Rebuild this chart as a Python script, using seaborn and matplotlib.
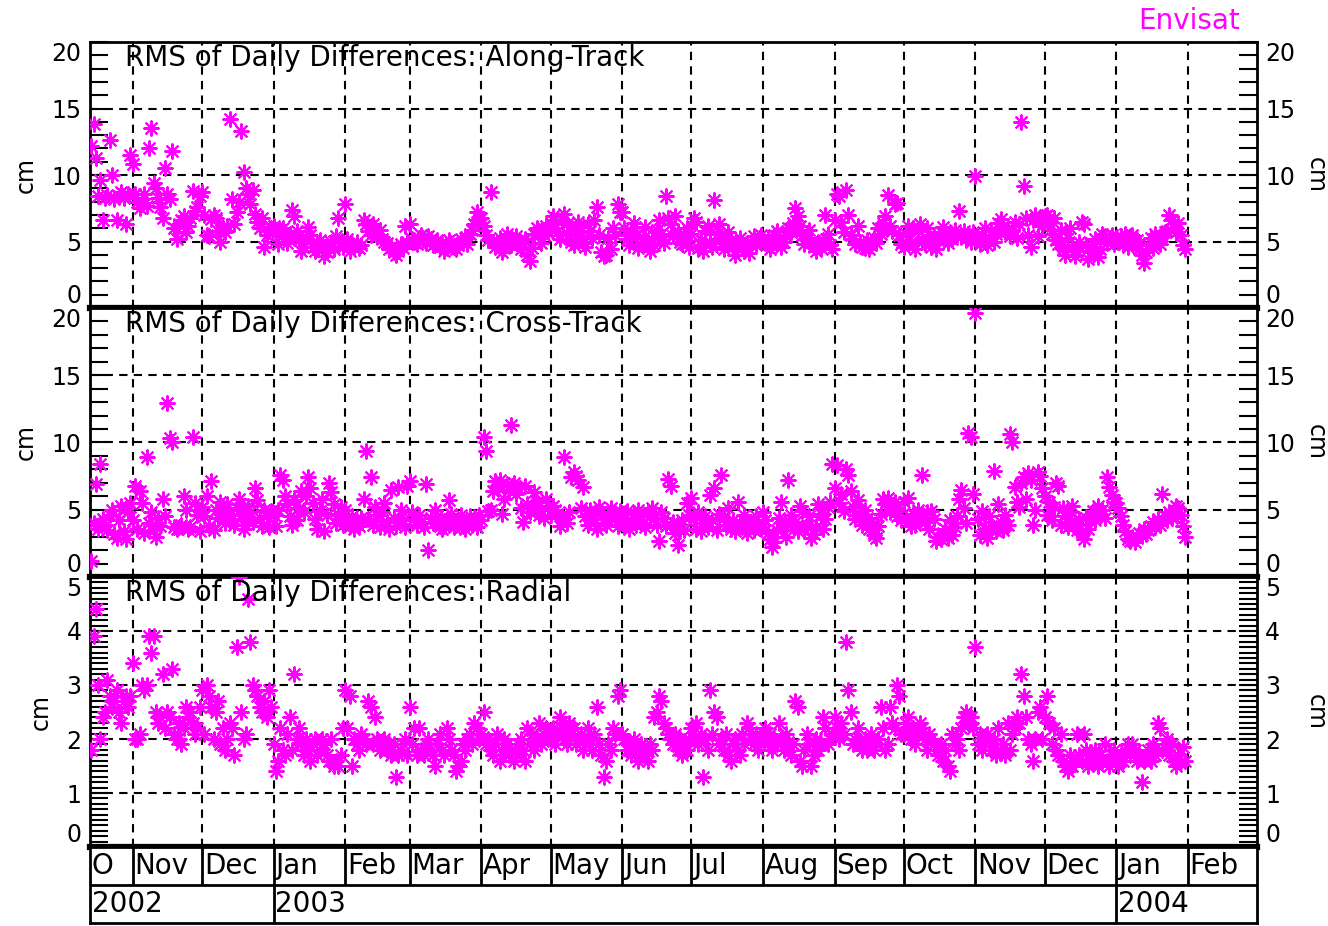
import matplotlib
matplotlib.use("Agg")
import matplotlib.pyplot as plt
import matplotlib.dates as mdates
from matplotlib.ticker import MultipleLocator, FixedLocator
import seaborn as sns
import pandas as pd

# daily RMS values (cm), one per day from 2002-10-14, one line per month
along_track = [
    12.2, 13.8, 11.3, 8.4, 9.6, 6.6, 8.3, 8.5, 12.6, 10.0, 8.2, 6.6, 8.4, 8.7, 8.3, 6.3, 8.6, 11.5,
    10.8, 8.6, 8.0, 7.5, 7.9, 8.6, 7.7, 12.0, 13.5, 9.4, 9.0, 8.3, 7.6, 6.8, 10.5, 8.6, 8.2, 11.8, 6.0, 5.2, 6.3, 6.6, 6.9, 5.7, 6.2, 6.8, 8.8, 7.3, 7.6, 8.4,
    8.7, 7.0, 5.5, 5.4, 6.7, 7.0, 6.8, 5.8, 5.0, 6.0, 5.7, 6.2, 14.2, 8.2, 6.3, 7.2, 8.0, 13.3, 10.2, 9.0, 8.6, 7.8, 8.9, 7.1, 6.5, 6.0, 6.8, 4.6, 5.5, 5.8, 6.0,
    6.2, 5.6, 4.8, 5.9, 6.0, 5.3, 4.9, 5.6, 7.4, 6.9, 5.8, 5.1, 4.3, 4.6, 5.2, 6.1, 5.5, 4.6, 4.3, 4.8, 5.1, 4.4, 3.9, 4.2, 4.5, 5.0, 4.4, 5.4, 6.8, 5.0, 4.6,
    7.8, 5.2, 4.3, 4.7, 4.6, 5.0, 4.5, 4.7, 6.6, 6.3, 5.8, 5.5, 6.3, 6.0, 5.4, 5.9, 5.2, 5.0, 4.9, 4.4, 4.6, 4.2, 4.0, 4.3, 4.8, 4.5, 6.2, 5.0,
    6.3, 5.2, 5.0, 4.8, 5.3, 5.5, 5.1, 4.9, 5.4, 5.2, 4.7, 5.0, 5.1, 4.6, 4.8, 4.3, 4.5, 5.1, 4.9, 4.6, 4.4, 4.7, 5.2, 5.0, 5.3, 4.8, 5.6, 5.9, 6.3, 7.2, 6.7,
    6.8, 6.2, 5.5, 5.1, 8.7, 5.0, 4.6, 4.9, 5.3, 4.2, 4.5, 5.6, 5.0, 4.7, 5.1, 5.4, 4.8, 4.4, 4.6, 5.2, 4.0, 3.5, 4.5, 5.6, 6.0, 5.8, 4.9, 5.5, 6.2, 5.8,
    6.4, 6.9, 6.0, 5.7, 5.2, 6.6, 7.1, 6.3, 5.5, 5.0, 4.7, 5.8, 6.5, 5.4, 4.9, 4.6, 6.3, 5.8, 5.3, 6.6, 7.6, 5.5, 4.2, 3.9, 4.0, 5.3, 4.4, 6.0, 5.5, 7.8, 7.2,
    7.2, 6.0, 5.2, 4.7, 5.8, 6.4, 5.5, 4.5, 4.8, 5.3, 6.1, 5.0, 4.3, 5.2, 4.7, 5.9, 6.6, 5.6, 4.9, 8.4, 6.8, 6.3, 5.4, 6.9, 5.7, 5.0, 4.8, 5.6, 6.0, 4.6,
    5.6, 6.8, 6.5, 4.5, 5.1, 4.3, 5.8, 6.2, 5.0, 4.6, 8.1, 5.6, 6.3, 5.2, 4.4, 4.8, 5.7, 5.1, 4.6, 4.0, 4.7, 5.3, 4.9, 4.3, 4.5, 4.1, 5.0, 5.4, 4.7, 5.2, 5.5,
    5.1, 4.9, 5.3, 4.4, 4.7, 5.5, 5.8, 5.2, 4.6, 5.0, 5.4, 6.0, 5.7, 6.4, 7.5, 6.9, 6.2, 5.5, 4.8, 5.3, 5.9, 5.0, 4.6, 4.3, 4.9, 4.5, 5.1, 7.0, 5.6, 4.7, 4.4,
    6.6, 8.6, 8.4, 6.5, 5.7, 8.9, 7.0, 5.5, 5.2, 4.8, 6.2, 5.0, 4.6, 4.5, 5.1, 4.4, 4.7, 5.3, 4.9, 6.0, 5.6, 6.4, 6.9, 8.5, 6.2, 5.8, 7.8, 7.9, 5.5, 4.8,
    4.6, 5.6, 6.2, 5.0, 6.0, 4.4, 5.8, 6.3, 5.2, 4.8, 6.0, 5.5, 4.6, 5.3, 4.4, 5.1, 5.7, 6.1, 5.4, 4.9, 5.6, 5.2, 5.9, 5.5, 7.3, 5.4, 5.8, 5.2, 5.6, 5.0, 5.7,
    9.9, 5.3, 4.8, 5.5, 6.0, 4.7, 5.2, 5.8, 5.0, 5.6, 6.4, 6.7, 6.2, 5.7, 6.0, 5.4, 5.9, 6.5, 5.3, 6.3, 14.0, 9.2, 6.8, 5.5, 4.6, 6.6, 7.0, 5.4, 6.7, 6.2,
    6.9, 7.0, 6.4, 5.6, 6.8, 5.1, 4.8, 5.9, 4.4, 4.0, 5.3, 6.0, 4.6, 3.9, 4.3, 5.0, 6.5, 6.3, 4.7, 3.7, 4.2, 4.5, 5.2, 3.8, 4.4, 5.6, 5.4, 4.9, 5.3, 5.5, 4.8,
    5.3, 5.0, 5.4, 4.8, 5.6, 4.6, 5.2, 5.5, 4.9, 5.1, 4.4, 4.0, 3.4, 4.2, 4.7, 5.3, 4.5, 5.6, 5.0, 4.8, 5.4, 5.7, 5.8, 7.0, 6.6, 6.0, 5.7, 6.4, 5.5, 4.7, 4.4,
]

cross_track = [
    1.2, 4.0, 6.9, 3.6, 8.4, 4.3, 3.9, 3.5, 4.6, 5.0, 3.2, 2.9, 4.2, 5.3, 3.4, 2.8, 4.8, 5.5,
    4.2, 6.8, 3.6, 6.4, 5.5, 3.3, 8.9, 4.0, 4.8, 3.5, 3.0, 4.4, 3.8, 5.8, 4.5, 12.9, 10.3, 10.0, 3.7, 3.6, 3.7, 3.9, 6.0, 5.0, 3.6, 3.7, 10.4, 5.5, 4.6, 3.4,
    5.2, 4.5, 6.0, 3.8, 7.1, 3.5, 5.0, 4.4, 5.6, 4.9, 4.0, 5.4, 4.7, 4.3, 3.9, 5.1, 5.8, 4.6, 3.6, 4.2, 5.3, 4.8, 4.1, 6.6, 5.7, 4.4, 3.8, 5.0, 4.5, 3.7, 4.9,
    4.6, 3.8, 5.0, 7.6, 7.2, 6.0, 5.4, 4.5, 3.9, 5.7, 4.2, 5.1, 6.4, 4.8, 6.0, 7.4, 6.6, 5.5, 4.3, 3.6, 4.9, 5.8, 3.4, 4.6, 7.0, 6.3, 5.4, 4.0, 4.7, 5.2, 3.9,
    5.0, 4.2, 3.8, 4.5, 3.6, 4.0, 3.8, 4.4, 5.8, 9.4, 4.3, 7.4, 3.9, 5.2, 4.6, 3.7, 4.8, 5.5, 4.1, 3.6, 6.5, 4.4, 3.8, 6.7, 5.0, 4.2, 3.7, 6.8,
    7.1, 4.8, 4.3, 3.9, 4.6, 4.1, 3.7, 6.9, 2.0, 4.4, 4.0, 5.0, 4.5, 3.8, 3.6, 3.8, 4.3, 5.7, 4.7, 3.7, 3.9, 4.2, 4.6, 3.8, 3.6, 4.1, 4.5, 3.9, 4.3, 3.7, 4.6,
    4.2, 10.4, 9.4, 4.9, 5.0, 6.4, 7.1, 6.7, 7.2, 4.7, 5.8, 6.9, 6.5, 11.3, 7.0, 6.2, 6.6, 5.1, 4.1, 6.8, 5.4, 4.8, 5.2, 6.3, 5.6, 4.6, 5.0, 4.4, 5.8, 5.3,
    4.6, 5.3, 5.0, 4.7, 3.8, 4.4, 8.9, 4.0, 4.8, 7.4, 7.8, 7.5, 7.2, 5.1, 6.7, 4.5, 3.9, 5.0, 4.6, 4.3, 3.6, 5.2, 4.8, 4.0, 3.9, 4.5, 5.1, 4.7, 4.4, 3.8, 4.9,
    4.4, 3.8, 4.9, 3.6, 4.2, 4.7, 3.9, 5.0, 4.5, 4.0, 3.7, 4.8, 4.6, 5.1, 4.3, 3.9, 2.7, 4.8, 4.4, 3.8, 7.3, 6.8, 4.1, 3.3, 2.4, 3.6, 4.2, 3.5, 5.5, 4.6,
    5.9, 4.3, 3.6, 4.8, 3.4, 4.0, 4.5, 3.7, 6.1, 4.2, 6.6, 3.5, 4.7, 7.6, 4.4, 3.9, 5.1, 3.6, 4.2, 3.4, 5.6, 4.0, 3.7, 4.6, 3.3, 4.1, 3.8, 3.5, 4.5, 3.9, 3.6,
    4.8, 4.2, 3.3, 2.8, 2.2, 2.6, 3.5, 4.4, 5.6, 3.9, 3.0, 7.2, 4.6, 3.8, 4.1, 3.4, 5.3, 4.9, 3.6, 3.9, 4.5, 2.9, 3.2, 3.7, 5.4, 4.7, 3.6, 4.3, 5.2, 5.6, 8.4,
    6.6, 8.3, 5.5, 6.2, 4.9, 8.0, 7.6, 6.4, 5.2, 4.3, 5.7, 4.6, 3.9, 5.0, 4.4, 3.6, 4.1, 3.1, 2.9, 3.8, 4.7, 5.8, 5.4, 5.9, 4.8, 5.3, 5.6, 4.5, 4.9, 4.2,
    5.6, 4.4, 5.9, 3.8, 4.7, 3.9, 5.0, 4.5, 7.6, 4.1, 4.8, 3.6, 4.9, 4.3, 2.7, 3.0, 2.8, 3.3, 3.6, 2.9, 4.2, 3.1, 3.7, 4.5, 5.8, 6.5, 5.1, 4.0, 10.7, 10.4, 6.2,
    19.6, 4.3, 3.1, 4.9, 3.6, 2.9, 4.5, 3.8, 7.9, 3.4, 5.4, 4.1, 3.5, 4.6, 3.9, 10.6, 10.0, 6.7, 5.6, 5.2, 7.0, 7.4, 5.8, 7.7, 7.2, 3.9, 5.0, 7.8, 7.5, 6.6,
    6.0, 4.6, 5.6, 4.2, 5.2, 7.0, 6.8, 3.9, 5.1, 4.5, 3.7, 4.8, 5.3, 4.0, 3.5, 4.3, 3.2, 2.8, 4.4, 3.6, 4.6, 4.9, 4.2, 5.3, 4.7, 5.0, 4.4, 7.4, 6.7, 6.1, 5.6,
    5.5, 5.1, 4.5, 3.9, 3.4, 2.8, 2.7, 3.0, 2.6, 2.9, 3.3, 3.1, 3.6, 3.2, 3.5, 3.8, 4.1, 3.7, 4.3, 3.9, 6.2, 4.5, 4.2, 4.8, 4.4, 5.0, 5.3, 5.1, 4.6, 3.8, 3.0,
]

radial = [
    1.8, 3.9, 4.4, 3.0, 2.0, 2.4, 2.5, 3.1, 2.8, 2.6, 2.7, 2.9, 2.5, 2.3, 2.7, 2.8, 2.6, 2.8,
    3.4, 2.0, 2.0, 2.1, 3.0, 2.9, 3.0, 3.9, 3.6, 3.9, 2.5, 2.3, 2.4, 3.2, 2.2, 2.5, 2.4, 3.3, 2.1, 2.0, 2.3, 1.9, 2.2, 2.6, 2.4, 2.5, 2.3, 2.1, 2.2, 2.6,
    2.9, 2.1, 3.0, 2.8, 2.6, 2.0, 2.5, 2.7, 1.9, 2.2, 1.8, 2.0, 2.3, 2.2, 1.7, 3.7, 5.0, 2.5, 2.0, 2.1, 4.6, 3.8, 3.0, 2.9, 2.8, 2.6, 2.5, 2.7, 2.4, 2.9, 2.6,
    1.9, 1.4, 1.6, 2.2, 1.8, 1.7, 2.1, 2.4, 1.8, 3.2, 2.0, 2.2, 1.9, 1.7, 2.0, 1.8, 1.6, 1.9, 2.0, 1.7, 1.8, 2.0, 1.9, 1.7, 1.6, 2.0, 1.5, 1.6, 1.5, 1.7, 2.2,
    2.9, 2.2, 2.8, 1.5, 2.0, 1.9, 1.8, 2.1, 2.0, 1.9, 2.7, 2.6, 1.9, 2.4, 2.0, 1.8, 1.9, 2.0, 1.8, 1.9, 1.7, 1.9, 1.3, 1.7, 1.8, 1.9, 2.0, 1.7,
    2.6, 1.9, 2.2, 1.7, 2.2, 1.8, 1.7, 1.9, 2.0, 1.8, 1.7, 1.5, 1.9, 2.1, 1.8, 1.7, 2.2, 2.0, 1.8, 1.7, 1.4, 1.5, 1.6, 1.9, 1.8, 2.0, 2.1, 1.9, 2.3, 2.2, 2.0,
    2.1, 2.5, 1.9, 2.0, 1.8, 1.7, 1.9, 2.1, 1.6, 1.8, 2.0, 1.9, 1.7, 1.8, 1.6, 1.7, 1.9, 2.0, 1.8, 1.6, 2.2, 1.9, 2.1, 1.8, 2.0, 2.3, 1.9, 2.1, 2.2, 2.0,
    2.0, 2.2, 1.9, 2.1, 2.4, 2.2, 2.0, 1.9, 2.3, 2.1, 2.2, 1.9, 2.0, 2.1, 1.8, 1.9, 2.2, 2.0, 1.8, 2.1, 2.6, 1.9, 1.7, 1.3, 1.6, 1.9, 1.8, 2.2, 2.1, 2.8, 2.9,
    2.1, 2.0, 1.8, 1.9, 1.7, 2.0, 1.8, 1.6, 1.9, 1.7, 1.8, 1.6, 1.9, 1.8, 2.4, 2.5, 2.8, 2.7, 2.3, 2.2, 2.1, 2.0, 1.9, 2.1, 1.8, 2.0, 1.7, 1.9, 1.8, 2.0,
    2.2, 2.0, 2.3, 1.9, 2.1, 1.3, 2.0, 1.8, 2.9, 2.1, 2.5, 2.4, 1.9, 2.0, 1.8, 2.1, 1.7, 1.6, 1.9, 2.0, 1.8, 1.7, 2.1, 1.9, 2.3, 2.2, 2.0, 1.9, 2.1, 1.8, 2.0,
    2.0, 2.2, 1.9, 2.1, 1.8, 2.0, 1.9, 2.3, 2.0, 1.8, 2.1, 1.9, 1.7, 1.9, 2.7, 2.6, 1.6, 1.5, 1.8, 2.1, 1.9, 1.5, 1.7, 2.0, 1.8, 1.9, 2.4, 2.2, 1.9, 2.0, 2.1,
    2.4, 2.2, 2.0, 2.3, 2.1, 3.8, 2.9, 2.5, 1.9, 2.0, 2.2, 1.9, 1.8, 2.0, 1.8, 1.9, 2.1, 1.8, 1.9, 2.0, 2.6, 2.2, 1.8, 1.9, 2.6, 2.3, 2.2, 3.0, 2.8, 2.1,
    2.1, 2.3, 2.4, 2.0, 2.2, 1.9, 2.1, 2.3, 2.2, 2.0, 1.8, 2.1, 2.0, 1.9, 1.8, 1.7, 1.9, 1.6, 1.8, 1.5, 1.4, 2.1, 1.9, 2.0, 1.8, 2.2, 2.4, 2.5, 2.3, 2.4, 2.2,
    3.7, 1.9, 2.1, 1.8, 2.0, 2.1, 1.9, 1.8, 2.0, 1.7, 2.2, 1.8, 1.9, 1.7, 2.3, 1.8, 2.1, 2.2, 2.4, 2.3, 3.2, 2.8, 2.4, 2.0, 1.9, 1.6, 2.0, 2.5, 2.6, 2.0,
    2.4, 2.8, 2.3, 1.9, 2.2, 1.8, 1.7, 2.1, 1.6, 1.5, 1.4, 1.7, 1.5, 1.6, 2.1, 1.7, 1.6, 2.1, 1.8, 1.5, 1.7, 1.6, 1.8, 1.5, 1.7, 1.6, 1.9, 1.6, 1.5, 1.7, 1.8,
    1.6, 1.5, 1.7, 1.6, 1.8, 1.9, 1.7, 1.9, 1.8, 1.6, 1.7, 1.2, 1.6, 1.7, 1.8, 1.6, 1.9, 1.7, 2.3, 2.2, 1.8, 1.9, 2.0, 1.7, 1.9, 1.6, 1.5, 1.7, 1.6, 1.85, 1.6,
]

first_day = "2002-10-14"
titles = ["RMS of Daily Differences: Along-Track",
          "RMS of Daily Differences: Cross-Track",
          "RMS of Daily Differences: Radial"]
month_labels = ["O", "Nov", "Dec", "Jan", "Feb", "Mar", "Apr", "May", "Jun",
                "Jul", "Aug", "Sep", "Oct", "Nov", "Dec", "Jan", "Feb"]
year_labels = ["2002", "2003", "2004"]

sns.set_style("ticks")
plt.rcParams["font.family"] = ["DejaVu Sans"]
for key in ["text.color", "axes.labelcolor", "xtick.color", "ytick.color", "axes.edgecolor"]:
    plt.rcParams[key] = "black"

dates = pd.date_range(first_day, periods=len(along_track), freq="D")
x_lo = pd.Timestamp("2002-10-13 12:00")
x_hi = pd.Timestamp("2004-03-02")
month_starts = pd.date_range("2002-11-01", "2004-02-01", freq="MS")
year_starts = [x_lo, pd.Timestamp("2003-01-01"), pd.Timestamp("2004-01-01")]

fig = plt.figure(figsize=(13.28, 9.26), dpi=100)
left, width = 0.0678, 0.8787
boxes = [(0.6674, 0.2872), (0.3769, 0.2905), (0.0853, 0.2916)]
series = [along_track, cross_track, radial]
limits = [(20, 5, 1), (20, 5, 1), (5, 1, 0.1)]
pink = "#ff00ff"
grid_dash = (0, (4, 3))

axes = []
for (bot, h), vals, (top, major, minor), title in zip(boxes, series, limits, titles):
    ax = fig.add_axes([left, bot, width, h])
    sns.scatterplot(x=dates, y=vals, ax=ax, marker=(8, 2, 0), s=110,
                    color=pink, linewidth=1.5, legend=False, zorder=3)
    ax.set_xlim(x_lo, x_hi)
    ax.set_ylim(0, top)
    n_major = int(round(top / major))
    ax.set_yticks([i * major for i in range(n_major + 1)])
    ax.yaxis.set_minor_locator(MultipleLocator(minor))
    ax.xaxis.set_major_locator(FixedLocator(mdates.date2num(month_starts)))
    ax.tick_params(axis="x", length=0, labelbottom=False)
    ax.tick_params(axis="y", which="both", direction="in", length=13, width=1.5,
                   left=True, right=True, labelleft=True, labelright=True,
                   labelsize=17, pad=6)
    ax.grid(True, which="major", color="black", linestyle=grid_dash, linewidth=1.5)
    ax.set_xlabel("")
    ax.set_ylabel("cm", fontsize=17, labelpad=10)
    ax.text(1.05, 0.5, "cm", rotation=270, fontsize=17, va="center", ha="center",
            transform=ax.transAxes)
    ax.text(0.03, 0.94, title, fontsize=20, va="center", ha="left",
            transform=ax.transAxes)
    # end labels sit inside the panel so neighbouring panels do not collide
    ticks = ax.yaxis.get_major_ticks()
    ticks[0].label1.set_va("bottom")
    ticks[0].label2.set_va("bottom")
    ticks[-1].label1.set_va("top")
    ticks[-1].label2.set_va("top")
    for side in ["left", "right", "top"]:
        ax.spines[side].set_linewidth(2)
    ax.spines["bottom"].set_linewidth(4.5)
    axes.append(ax)

# month / year label boxes under the panels
lab = fig.add_axes([left, 0.003, width, 0.0823])
lab.set_xlim(x_lo, x_hi)
lab.set_ylim(0, 2)
lab.set_xticks([])
lab.set_yticks([])
for side in lab.spines.values():
    side.set_linewidth(2)
lab.axhline(1, color="black", linewidth=2)
lab.vlines(month_starts, 1, 2, color="black", linewidth=2)
lab.vlines(year_starts[1:], 0, 1, color="black", linewidth=2)
for pos, name in zip([x_lo] + list(month_starts), month_labels):
    lab.text(pos + pd.Timedelta(hours=20), 1.5, name, fontsize=20, va="center", ha="left")
for pos, name in zip(year_starts, year_labels):
    lab.text(pos + pd.Timedelta(hours=20), 0.5, name, fontsize=20, va="center", ha="left")

fig.text(0.934, 0.977, "Envisat", color=pink, fontsize=20, ha="right", va="center")

fig.savefig("out.png", dpi=100)
